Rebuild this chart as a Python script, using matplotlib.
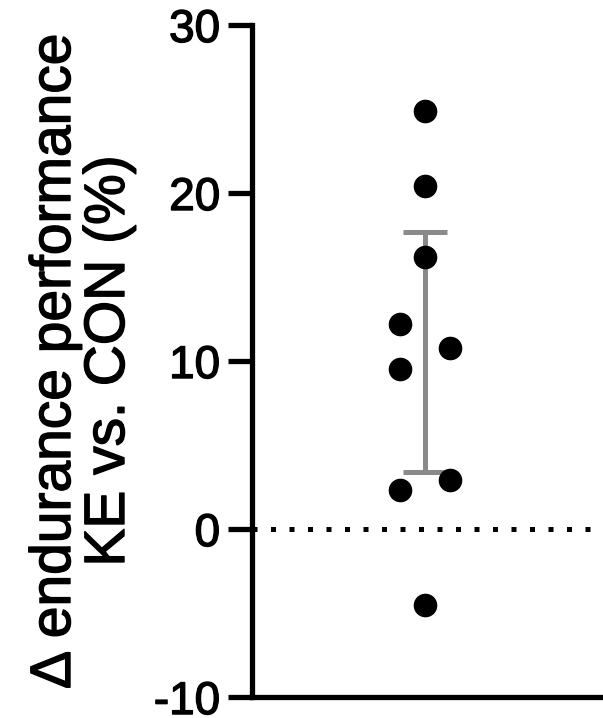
import numpy as np
import matplotlib
matplotlib.use("Agg")
import matplotlib.pyplot as plt
import matplotlib.patheffects as pe

plt.rcParams['font.family'] = ['Liberation Sans', 'DejaVu Sans']
plt.rcParams['axes.unicode_minus'] = False

# data
x_pos = [0, 0, 0, -0.143, 0.143, -0.143, 0.143, -0.143, 0]
values = [24.9, 20.4, 16.2, 12.2, 10.8, 9.5, 2.9, 2.3, -4.5]
bar_low = 3.4
bar_high = 17.7
yticks = [-10, 0, 10, 20, 30]

fig = plt.figure(figsize=(6.03, 7.18), dpi=100)
ax = fig.add_axes([0.418, 0.0292, 0.579, 0.936])

# error bar (gray) with caps
mid = (bar_low + bar_high) / 2
ax.errorbar([0], [mid], yerr=[[mid - bar_low], [bar_high - mid]], fmt='none',
            ecolor='#8a8a8a', elinewidth=3.6, capsize=16, capthick=3.6, zorder=2)

ax.plot(x_pos, values, 'o', color='black', markersize=16, zorder=3)

ax.axhline(0, color='black', lw=3.6, linestyle=(0, (1, 2.7)), zorder=1)

ax.set_xlim(-0.992, 1.008)
ax.set_ylim(-10, 30)
ax.set_yticks(yticks)
ax.set_xticks([])
ax.spines['top'].set_visible(False)
ax.spines['right'].set_visible(False)
ax.spines['left'].set_linewidth(3.8)
ax.spines['bottom'].set_linewidth(3.8)
ax.spines['left'].set_capstyle('projecting')
ax.tick_params(axis='y', width=3.8, length=17, pad=6, labelsize=33)

thick = [pe.withStroke(linewidth=1.0, foreground='black')]
for lab in ax.get_yticklabels():
    lab.set_path_effects(thick)

fig.text(0.136, 1 - 361 / 718, '\u0394 endurance performance\nKE vs. CON (%)',
         fontsize=41, rotation=90, ha='center', va='center', linespacing=1.0,
         path_effects=thick)

fig.savefig('out.png', dpi=100)
